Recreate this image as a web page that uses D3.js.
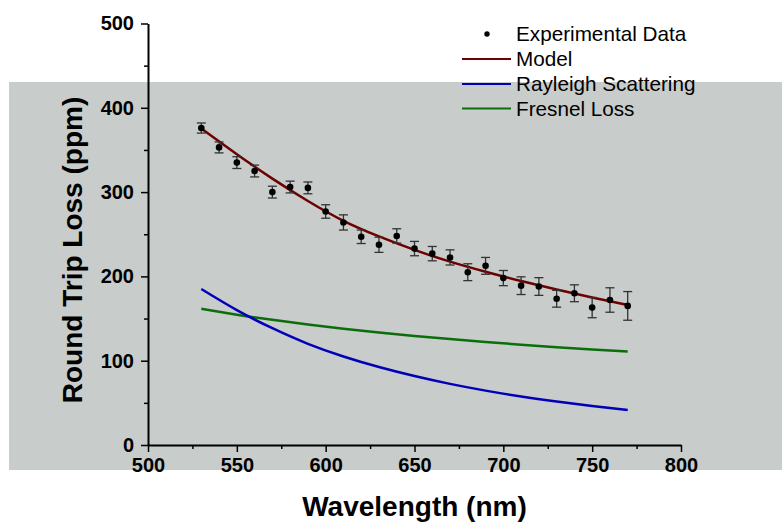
<!DOCTYPE html>
<html>
<head>
<meta charset="utf-8">
<script src="https://cdn.jsdelivr.net/npm/d3@7"></script>
<style>
  html, body { margin: 0; padding: 0; background: #ffffff; }
  svg { display: block; font-family: "Liberation Sans", Arial, sans-serif; }
</style>
</head>
<body>
<div id="chart"></div>
<script>
// ----- data -----
const wavelengths = [530, 540, 550, 560, 570, 580, 590, 600, 610, 620, 630, 640, 650,
                     660, 670, 680, 690, 700, 710, 720, 730, 740, 750, 760, 770];
const measured = [376, 353, 335, 325, 300, 306, 305, 277, 264, 247, 237.5, 248, 233,
                  227, 222.5, 205, 212.5, 198, 189, 188, 173.5, 180, 163, 172, 165];
const errors = [6, 6.5, 7, 7, 7, 7, 7, 8, 9, 8, 9, 8.5, 8.5,
                8.5, 9, 10, 10, 9, 10.5, 10.5, 10, 10, 12, 14.5, 17];

const curveWl = [530, 550, 570, 590, 610, 630, 650, 670, 690, 710, 730, 750, 770];
const modelLoss = [375.5, 345, 316, 289.5, 266, 247.5, 231.5, 217.5, 205.5, 194.5, 184.5, 175, 166];
const rayleighLoss = [185, 160, 138.5, 120, 105, 92.5, 81.8, 72.5, 64.5, 57.5, 51.5, 46.2, 41.5];
const fresnelLoss = [161.5, 154.6, 148.5, 143, 138, 133.4, 129.3, 125.6, 122.1, 119, 116.1, 113.4, 111];

const xMajor = [500, 550, 600, 650, 700, 750, 800];
const xMinor = [525, 575, 625, 675, 725, 775];
const yMajor = [0, 100, 200, 300, 400, 500];
const yMinor = [50, 150, 250, 350, 450];

const legendLabels = ["Experimental Data", "Model", "Rayleigh Scattering", "Fresnel Loss"];
const lineColors = { model: "#6e0000", rayleigh: "#0000b8", fresnel: "#0b6e0b" };

// ----- layout -----
const W = 782, H = 522;
const svg = d3.select("#chart").append("svg")
  .attr("width", W)
  .attr("height", H);

// gray panel behind the plot
svg.append("rect")
  .attr("x", 9).attr("y", 82)
  .attr("width", W - 9).attr("height", 388)
  .attr("fill", "#c8cccb");

const x = d3.scaleLinear().domain([500, 800]).range([148, 681]);
const y = d3.scaleLinear().domain([0, 500]).range([445, 23.5]);

// axes
svg.append("g")
  .attr("transform", `translate(0,${y(0)})`)
  .call(d3.axisBottom(x).tickValues(xMajor).tickSize(7).tickSizeOuter(0).tickPadding(6));
svg.append("g")
  .attr("transform", `translate(0,${y(0)})`)
  .call(d3.axisBottom(x).tickValues(xMinor).tickSize(4).tickSizeOuter(0).tickFormat(""))
  .select(".domain").remove();

svg.append("g")
  .attr("transform", `translate(${x(500)},0)`)
  .call(d3.axisLeft(y).tickValues(yMajor).tickSize(7).tickSizeOuter(0).tickPadding(7));
svg.append("g")
  .attr("transform", `translate(${x(500)},0)`)
  .call(d3.axisLeft(y).tickValues(yMinor).tickSize(4).tickSizeOuter(0).tickFormat(""))
  .select(".domain").remove();

svg.selectAll(".domain").attr("stroke", "#000").attr("stroke-width", 2);
svg.selectAll(".tick line").attr("stroke", "#000").attr("stroke-width", 1.5);
svg.selectAll(".tick text")
  .style("font-family", "'Liberation Sans', Arial, sans-serif")
  .style("font-size", "20px")
  .style("font-weight", "bold")
  .attr("fill", "#000");

// axis titles
svg.append("text")
  .attr("x", (x(500) + x(800)) / 2)
  .attr("y", 516)
  .attr("text-anchor", "middle")
  .style("font-size", "28px")
  .style("font-weight", "bold")
  .text("Wavelength (nm)");

svg.append("text")
  .attr("transform", `translate(82,250) rotate(-90)`)
  .attr("text-anchor", "middle")
  .style("font-size", "28px")
  .style("font-weight", "bold")
  .text("Round Trip Loss (ppm)");

// curves
const line = d3.line()
  .x(d => x(d[0]))
  .y(d => y(d[1]))
  .curve(d3.curveNatural);

const series = [
  { key: "fresnel", values: fresnelLoss },
  { key: "rayleigh", values: rayleighLoss },
  { key: "model", values: modelLoss }
];
series.forEach(s => {
  svg.append("path")
    .datum(curveWl.map((w, i) => [w, s.values[i]]))
    .attr("d", line)
    .attr("fill", "none")
    .attr("stroke", lineColors[s.key])
    .attr("stroke-width", 2.5);
});

// error bars + points
const pts = wavelengths.map((w, i) => ({ w, v: measured[i], e: errors[i] }));
const capHalf = 4.5;
const eb = svg.append("g").attr("stroke", "#333").attr("stroke-width", 1.3);
pts.forEach(d => {
  const cx = x(d.w), top = y(d.v + d.e), bot = y(d.v - d.e);
  eb.append("line").attr("x1", cx).attr("x2", cx).attr("y1", top).attr("y2", bot);
  eb.append("line").attr("x1", cx - capHalf).attr("x2", cx + capHalf).attr("y1", top).attr("y2", top);
  eb.append("line").attr("x1", cx - capHalf).attr("x2", cx + capHalf).attr("y1", bot).attr("y2", bot);
});

svg.append("g").selectAll("circle")
  .data(pts)
  .enter()
  .append("circle")
  .attr("cx", d => x(d.w))
  .attr("cy", d => y(d.v))
  .attr("r", 3.3)
  .attr("fill", "#000");

// legend
const legend = svg.append("g");
const rowY = [34, 59, 84, 108.5];
legend.append("circle")
  .attr("cx", 487).attr("cy", rowY[0]).attr("r", 2.7).attr("fill", "#000");
["model", "rayleigh", "fresnel"].forEach((k, i) => {
  legend.append("line")
    .attr("x1", 462).attr("x2", 511)
    .attr("y1", rowY[i + 1]).attr("y2", rowY[i + 1])
    .attr("stroke", lineColors[k])
    .attr("stroke-width", 2);
});
legend.selectAll("text")
  .data(legendLabels)
  .enter()
  .append("text")
  .attr("x", 516)
  .attr("y", (d, i) => rowY[i] + 7)
  .style("font-size", "20.7px")
  .attr("fill", "#000")
  .text(d => d);
</script>
</body>
</html>
